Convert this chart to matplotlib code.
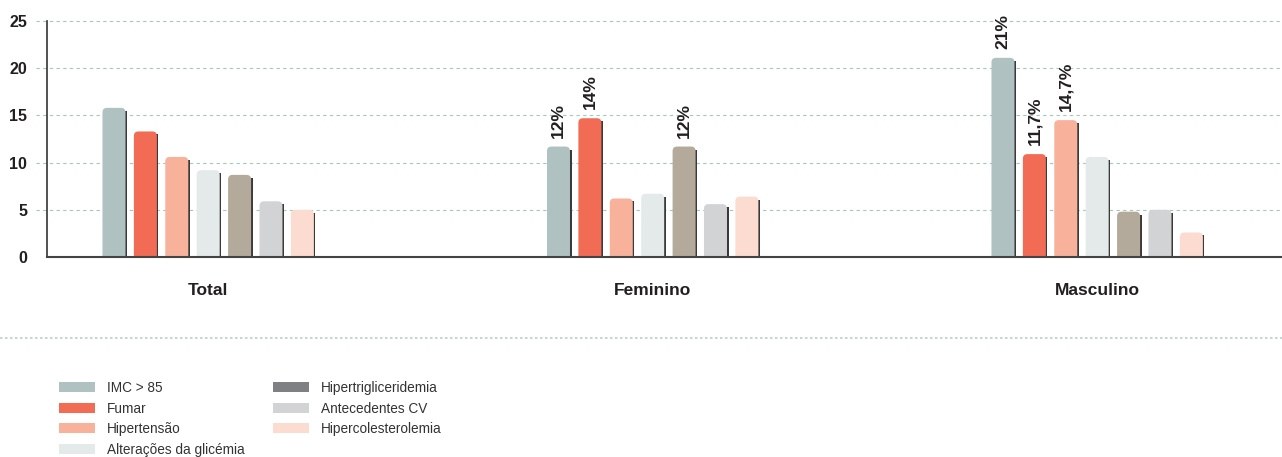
import numpy as np
import matplotlib.pyplot as plt
from matplotlib.patches import FancyBboxPatch, Patch
from matplotlib.lines import Line2D

plt.rcParams['font.family'] = ['Liberation Sans', 'DejaVu Sans']

groups = ["Total", "Feminino", "Masculino"]
series = ["IMC > 85", "Fumar", "Hipertensão", "Alterações da glicémia",
          "Hipertrigliceridemia", "Antecedentes CV", "Hipercolesterolemia"]

total = [15.8, 13.3, 10.6, 9.2, 8.7, 5.9, 5.0]
feminino = [11.7, 14.7, 6.2, 6.7, 11.7, 5.6, 6.4]
masculino = [21.1, 10.9, 14.5, 10.6, 4.8, 5.0, 2.6]

fem_labels = ["12%", "14%", "", "", "12%", "", ""]
masc_labels = ["21%", "11,7%", "14,7%", "", "", "", ""]
tot_labels = ["", "", "", "", "", "", ""]

bar_colors = ["#afc1c0", "#f26b55", "#f8b29b", "#e4eaea", "#b3aa9b", "#d1d3d4", "#fcdcd0"]
legend_colors = ["#afc1c0", "#f26b55", "#f8b29b", "#e4eaea", "#7f8083", "#d1d3d4", "#fcdcd0"]

values = np.array([total, feminino, masculino])
labels = [tot_labels, fem_labels, masc_labels]

W, H = 1282, 457
fig = plt.figure(figsize=(W / 100, H / 100), dpi=100)
ax = fig.add_axes([46.7 / W, 200 / H, 1 - 46.7 / W, 236 / H])

x_left, x_right = -0.3633, 2.4158
ax.set_xlim(x_left, x_right)
ax.set_ylim(0, 25)

px_x = (x_right - x_left) / (W - 46.7)
px_y = 25 / 236
step = 31.4 * px_x
bw = 23 * px_x
radius = 4.5 * px_x
aspect = px_y / px_x

txt = "#231f20"

# grid lines (start a little left of the axis)
for yv in [5, 10, 15, 20, 25]:
    ax.plot([-0.009, 1], [yv, yv], transform=ax.get_yaxis_transform(),
            color="#a9c4bf", lw=0.8, dashes=(3, 3), clip_on=False, zorder=0)

gx = np.arange(len(groups))
for k in range(len(series)):
    xs = gx + (k - 3) * step
    vals = values[:, k]
    # shadow on the right edge
    ax.bar(xs + 1.6 * px_x, vals - 3 * px_y, bw, color="#3a3a3a", zorder=1)
    rects = ax.bar(xs, vals, bw, color=bar_colors[k], zorder=2)
    for r in rects:
        r.set_visible(False)
        p = FancyBboxPatch((r.get_x(), -2), r.get_width(), r.get_height() + 2,
                           boxstyle=f"round,pad=0,rounding_size={radius}",
                           mutation_aspect=aspect, fc=bar_colors[k], ec="none",
                           zorder=2)
        ax.add_patch(p)
    for g in range(len(groups)):
        if labels[g][k]:
            ax.annotate(labels[g][k], (xs[g], vals[g]), xytext=(0, 6.5),
                        textcoords="offset points", rotation=90,
                        ha="center", va="bottom", fontsize=12.5,
                        fontweight="bold", color=txt)

ax.set_xticks(gx)
ax.set_xticklabels(groups, fontsize=12.5, fontweight="bold", color=txt)
ax.set_yticks([0, 5, 10, 15, 20, 25])
ax.set_yticklabels(["0", "5", "10", "15", "20", "25"], fontsize=11.5,
                   fontweight="bold", color=txt)
ax.tick_params(axis="x", length=0, pad=19)
ax.tick_params(axis="y", length=0, pad=14)

for s in ["top", "right"]:
    ax.spines[s].set_visible(False)
ax.spines["left"].set_color("#333333")
ax.spines["bottom"].set_color("#444444")
ax.spines["left"].set_linewidth(1.2)
ax.spines["bottom"].set_linewidth(1.5)

# dotted separator
fig.add_artist(Line2D([0, 1], [1 - 338 / H, 1 - 338 / H], color="#b8cfcb",
                      lw=1.2, dashes=(1.5, 1.5)))

handles = [Patch(facecolor=c, edgecolor="none") for c in legend_colors]
fig.legend(handles, series, loc="upper left", bbox_to_anchor=(59 / W, 1 - 381 / H),
           ncol=2, frameon=False, fontsize=9.8, borderpad=0, borderaxespad=0,
           handlelength=2.65, handleheight=0.78, handletextpad=0.86,
           labelspacing=0.48, columnspacing=2.1, labelcolor="#333333")

fig.savefig("out.png", dpi=100)
